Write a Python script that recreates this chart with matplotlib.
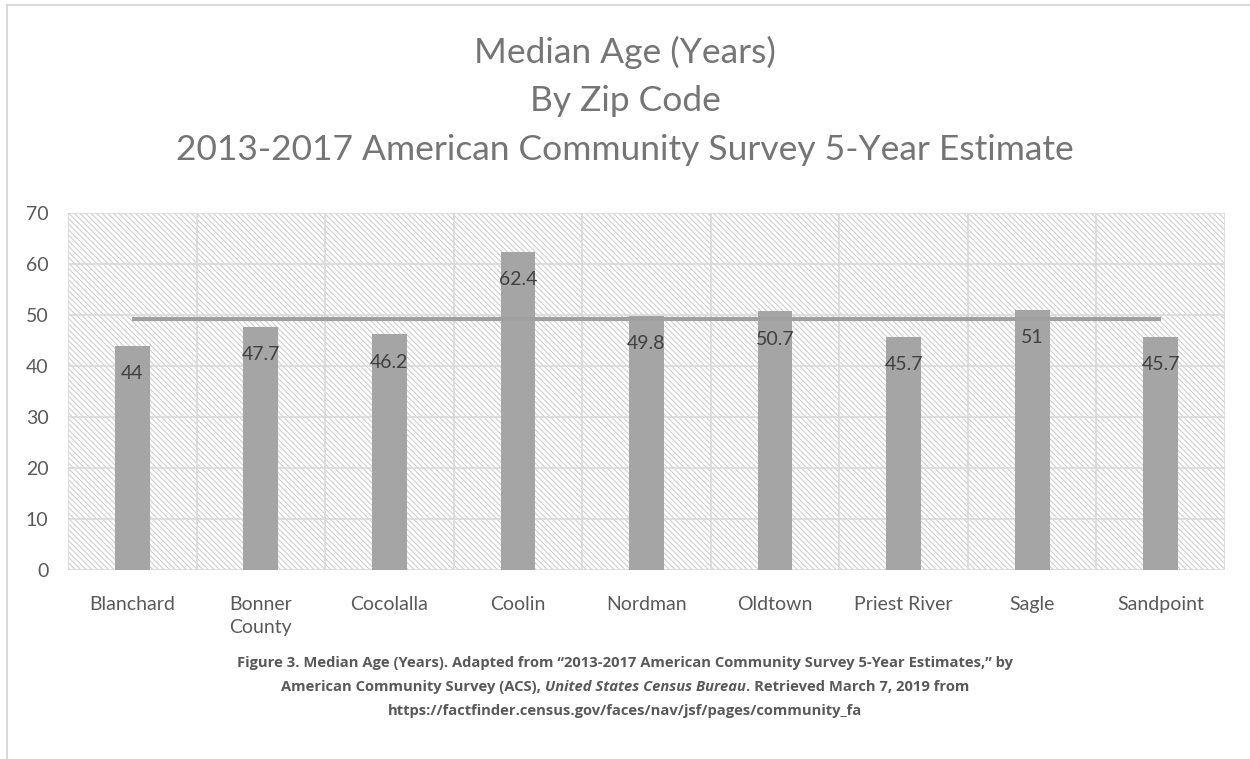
import numpy as np
import matplotlib.pyplot as plt
from matplotlib.lines import Line2D

# donnees
zones = ['Blanchard', 'Bonner\nCounty', 'Cocolalla', 'Coolin', 'Nordman',
         'Oldtown', 'Priest River', 'Sagle', 'Sandpoint']
ages = [44, 47.7, 46.2, 62.4, 49.8, 50.7, 45.7, 51, 45.7]
age_labels = ['44', '47.7', '46.2', '62.4', '49.8', '50.7', '45.7', '51', '45.7']
yticks = [0, 10, 20, 30, 40, 50, 60, 70]

title_lines = ['Median Age (Years)', 'By Zip Code',
               '2013-2017 American Community Survey 5-Year Estimate']

FONT = 'Lato'
TXT = '#595959'
BAR = '#a5a5a5'
GRID = '#d9d9d9'

plt.rcParams['hatch.linewidth'] = 0.8

fig = plt.figure(figsize=(12.5, 7.59), dpi=100)
ax = fig.add_axes([68/1250, 1 - 570/759, (1225-68)/1250, (570-213)/759])

x = np.arange(len(zones))
ax.set_xlim(-0.5, len(zones) - 0.5)
ax.set_ylim(0, 70)

# fond hachuré
ax.add_patch(plt.Rectangle((0, 0), 1, 1, transform=ax.transAxes, facecolor='white',
                           edgecolor='#cfcfcf', lw=0, hatch='\\\\\\\\\\\\', zorder=0))

# grille
for y in yticks:
    ax.axhline(y, color=GRID, lw=1.2, zorder=1)
for b in np.arange(-0.5, len(zones), 1.0):
    ax.axvline(b, color=GRID, lw=1.2, zorder=1)

ax.bar(x, ages, width=0.27, color=BAR, zorder=2)

# ligne de moyenne
moy = np.mean(ages)
ax.plot([x[0], x[-1]], [moy, moy], color='#a0a0a0', lw=3, zorder=3, solid_capstyle='butt')

for xi, v, lab in zip(x, ages, age_labels):
    ax.annotate(lab, (xi, v), xytext=(0, -20), textcoords='offset points',
                ha='center', va='center', fontsize=14, color='#404040',
                family=FONT, zorder=4)

for s in ax.spines.values():
    s.set_visible(False)
ax.set_yticks(yticks)
ax.set_xticks(x)
ax.set_xticklabels(zones, family=FONT, fontsize=14, color=TXT, linespacing=1.4)
ax.set_yticklabels([str(t) for t in yticks], family=FONT, fontsize=14, color=TXT)
ax.tick_params(length=0)
ax.tick_params(axis='x', pad=19)
ax.tick_params(axis='y', pad=14)

# titre
for i, t in enumerate(title_lines):
    fig.text(0.5, 1 - (52 + 49*i)/759, t, ha='center', va='center', fontsize=25.5,
             color='#757575', family=FONT)

# legende (caption)
cap_kw = dict(fontsize=10.6, color=TXT, family='Open Sans', fontweight='bold', va='center')
fig.text(0.5, 1 - 663/759,
         'Figure 3. Median Age (Years). Adapted from \u201c2013-2017 American Community Survey 5-Year Estimates,\u201d by',
         ha='center', **cap_kw)
fig.text(0.5, 1 - 711/759,
         'https://factfinder.census.gov/faces/nav/jsf/pages/community_fa', ha='center', **cap_kw)

# ligne du milieu avec partie en italique
parts = [('American Community Survey (ACS), ', 'normal'),
         ('United States Census Bureau', 'italic'),
         ('. Retrieved March 7, 2019 from', 'normal')]
r = fig.canvas.get_renderer()
objs = []
for txt, st in parts:
    objs.append(fig.text(0, 1 - 687/759, txt, ha='left', style=st, **cap_kw))
widths = [o.get_window_extent(r).width for o in objs]
x0 = (1250 - sum(widths)) / 2
for o, w in zip(objs, widths):
    o.set_x(x0 / 1250)
    x0 += w

# bordure du graphique
fig.add_artist(Line2D([7/1250, 7/1250], [0, 1 - 5/759], color='#d9d9d9', lw=1.5))
fig.add_artist(Line2D([7/1250, 1], [1 - 5/759, 1 - 5/759], color='#d9d9d9', lw=1.5))

fig.savefig('out.png', dpi=100, facecolor='white')
